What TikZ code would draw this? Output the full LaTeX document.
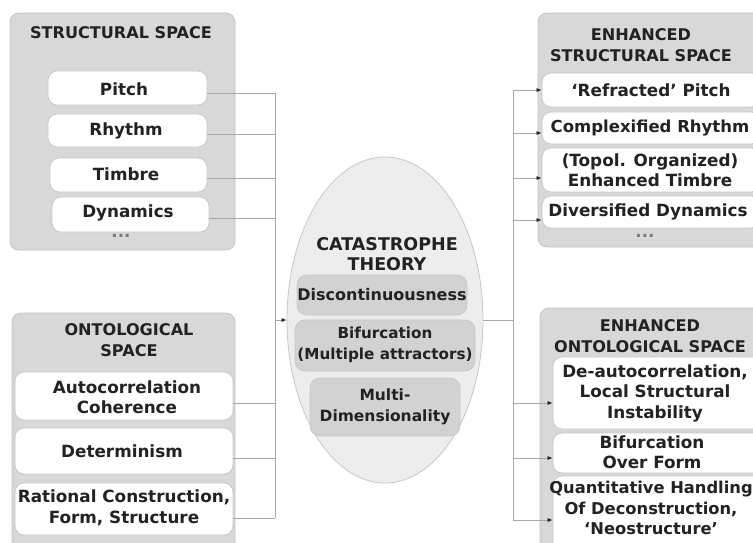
\documentclass[tikz,border=0pt]{standalone}
\usepackage{fontspec}
\setmainfont{DejaVu Sans}
\usetikzlibrary{arrows.meta,shapes.geometric,positioning}
\definecolor{outerfill}{HTML}{D8D8D8}
\definecolor{outerdraw}{HTML}{C4C4C4}
\definecolor{innerdraw}{HTML}{C8C8C8}
\definecolor{ellfill}{HTML}{EDEDED}
\definecolor{ellbox}{HTML}{D2D2D2}
\definecolor{linecol}{HTML}{A8A8A8}
\definecolor{txt}{HTML}{222222}
\tikzset{
  outerbox/.style={draw=outerdraw, fill=outerfill, rounded corners=9pt, line width=0.8pt},
  innerbox/.style={draw=innerdraw, fill=white, rounded corners=9pt, line width=0.8pt, inner sep=0pt},
  ellbx/.style={draw=innerdraw, fill=ellbox, rounded corners=10pt, line width=0.8pt, inner sep=0pt},
  fs/.style={font=\fontsize{#1}{20.5}\selectfont\bfseries},
  lbl/.style={text=txt, fs=16.8, align=center, inner sep=0pt},
  conn/.style={draw=linecol, line width=0.7pt},
  arr/.style={conn, -{Latex[length=5pt,width=4pt,color=txt]}},
}
\newcommand{\boxat}[6]{% name, x1, y1, x2, y2, style
  \node[#6, minimum width={(#4-#2)*1pt}, minimum height={(#5-#3)*1pt}] (#1) at ({(#2+#4)/2},{(#3+#5)/2}) {};
}
\begin{document}
\begin{tikzpicture}[x=1pt,y=-1pt]
\useasboundingbox (0,0) rectangle (753,542);
\clip (0,0) rectangle (753,542);
% outer boxes
\boxat{ss}{10}{13}{235}{250}{outerbox}
\boxat{os}{12}{313}{235}{560}{outerbox}
\boxat{ess}{538}{13}{775}{247}{outerbox}
\boxat{eos}{540}{308}{775}{560}{outerbox}
% inner boxes
\boxat{pitch}{48}{71}{207}{105}{innerbox}
\boxat{rhythm}{48}{114}{207}{147}{innerbox}
\boxat{timbre}{50}{158}{207}{192}{innerbox}
\boxat{dyn}{52}{197}{209}{232}{innerbox}
\boxat{auto}{15}{372}{233}{420}{innerbox}
\boxat{det}{15}{428}{233}{474}{innerbox}
\boxat{rat}{15}{483}{233}{535}{innerbox}
\boxat{refr}{542}{73}{760}{107}{innerbox}
\boxat{compl}{542}{112}{760}{144}{innerbox}
\boxat{topol}{542}{148}{760}{192}{innerbox}
\boxat{divd}{542}{196}{760}{228}{innerbox}
\boxat{deauto}{553}{357}{762}{429}{innerbox}
\boxat{bifo}{553}{433}{762}{473}{innerbox}
\boxat{quant}{553}{476}{762}{560}{innerbox}
% ellipse
\node[ellipse, draw=innerdraw, fill=ellfill, line width=0.8pt, minimum width=196pt, minimum height=326pt, inner sep=0pt] (cat) at (385,320) {};
\boxat{disc}{297}{275}{467}{315}{ellbx}
\boxat{bif}{295}{320}{475}{371}{ellbx}
\boxat{multi}{310}{378}{460}{436}{ellbx}
% texts
\node[lbl, fs=16.1] (tss) at (121,33) {STRUCTURAL SPACE};
\node[lbl] (tpitch) at (124,89) {Pitch};
\node[lbl] (trhythm) at (126,131) {Rhythm};
\node[lbl] (ttimbre) at (126,174) {Timbre};
\node[lbl] (tdyn) at (128,213) {Dynamics};
\node[lbl, text=txt!60] (dots1) at (121,236) {...};
\node[lbl, fs=16.1] (tos) at (129,340) {ONTOLOGICAL\\SPACE};
\node[lbl] (tauto) at (127,397) {Autocorrelation\\Coherence};
\node[lbl] (tdet) at (122,451) {Determinism};
\node[lbl] (trat) at (124,508) {Rational Construction,\\Form, Structure};
\node[lbl, fs=17.5] (tcat) at (387,254) {CATASTROPHE\\THEORY};
\node[lbl, fs=16] (tdisc) at (382,295) {Discontinuousness};
\node[lbl, fs=15.2] (tbif) at (385,345) {Bifurcation\\(Multiple attractors)};
\node[lbl, fs=15.5] (tmulti) at (385,407) {Multi-\\Dimensionality};
\node[lbl, fs=16.1] (tess) at (641,45) {ENHANCED\\STRUCTURAL SPACE};
\node[lbl] (trefr) at (651,90) {‘Refracted’ Pitch};
\node[lbl, fs=16.5] (tcompl) at (650,128) {Complexified Rhythm};
\node[lbl] (ttopol) at (650,170) {(Topol. Organized)\\Enhanced Timbre};
\node[lbl] (tdivd) at (648,212) {Diversified Dynamics};
\node[lbl, text=txt!60] (dots2) at (645,236) {...};
\node[lbl, fs=16.1] (teos) at (650,336) {ENHANCED\\ONTOLOGICAL SPACE};
\node[lbl] (tdeauto) at (655,393) {De-autocorrelation,\\Local Structural\\Instability};
\node[lbl] (tbifo) at (652,452) {Bifurcation\\Over Form};
\node[lbl, fs=16.3] (tquant) at (651,508) {Quantitative Handling\\Of Deconstruction,\\‘Neostructure’};
% connectors left
\coordinate (lbus) at (275,320);
\foreach \n/\d in {pitch/5,rhythm/4,timbre/3,dyn/4,auto/7,det/7,rat/9}{
  \draw[conn] ([yshift=-\d pt]\n.east) -- ([yshift=-\d pt]\n.east -| lbus);
}
\draw[conn] ([yshift=-5pt]pitch.east -| lbus) -- ([yshift=-9pt]rat.east -| lbus);
\draw[arr] (lbus) -- (cat.west);
% connectors right
\coordinate (rbus) at (513,320);
\draw[conn] (cat.east) -- (rbus);
\draw[conn] (refr.west -| rbus) -- ([yshift=-2pt]quant.west -| rbus);
\foreach \n/\d in {refr/0,compl/5,topol/8,divd/8,deauto/10,bifo/5,quant/2}{
  \draw[arr] ([yshift=-\d pt]\n.west -| rbus) -- ([yshift=-\d pt]\n.west);
}
\end{tikzpicture}
\end{document}
